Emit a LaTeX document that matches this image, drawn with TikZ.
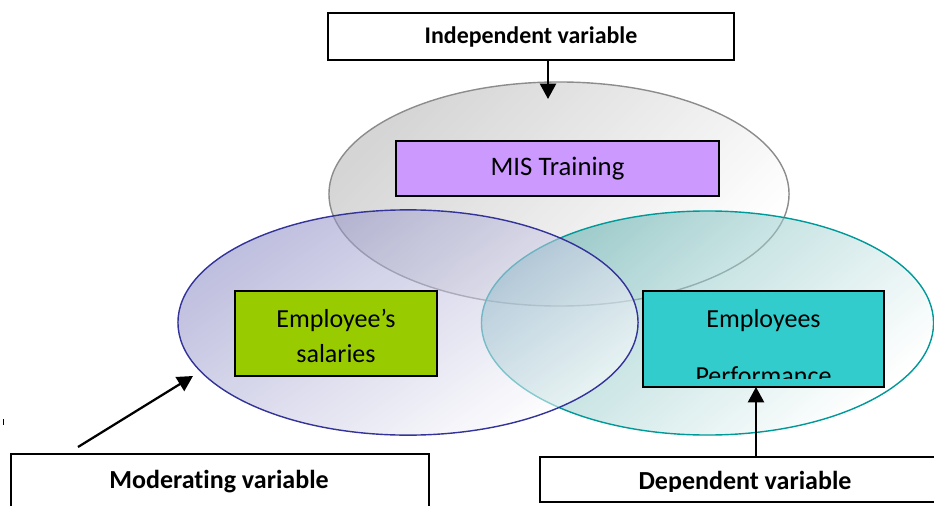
\documentclass[tikz,border=0pt]{standalone}
\usepackage{fontspec}
\setmainfont{Carlito}[Ligatures=NoCommon]
\usetikzlibrary{arrows.meta}
\usetikzlibrary{shapes}
\usetikzlibrary{backgrounds,positioning}
\usepackage{xcolor}
\definecolor{misfill}{HTML}{CC99FF}
\definecolor{salfill}{HTML}{99CC00}
\definecolor{perffill}{HTML}{33CCCC}
\definecolor{navyline}{HTML}{333399}
\definecolor{tealline}{HTML}{009999}
\definecolor{grayline}{HTML}{8C8C8C}

\begin{document}
\begin{tikzpicture}[x=0.025cm,y=-0.025cm]
      \tikzstyle{region}=[ellipse, inner sep=0pt, line width=1pt, fill opacity=0.55, shading=axis]
      \tikzstyle{factor}=[rectangle, draw, line width=1.3pt, inner sep=0pt, align=center, font=\fontsize{18.5}{24.9}\selectfont]
      \tikzstyle{varbox}=[rectangle, draw, line width=1pt, fill=white, inner sep=0pt, font=\fontsize{17}{20}\selectfont\bfseries]
      \tikzstyle{varname}=[anchor=base, font=\fontsize{18.5}{20}\selectfont\bfseries]
      \tikzstyle{arrow}=[line width=1.6pt, -{Triangle[length=11pt,width=11.5pt]}]
      \clip (0,0) rectangle (934,506);

      % the three overlapping sets
      \node[region, draw=grayline, top color=gray!60, middle color=gray!22, bottom color=white, shading angle=45,
            minimum width=11.5cm, minimum height=5.6cm] (trainset) at (559,194) {};
      \node[region, draw=tealline, top color=teal!65, middle color=teal!20, bottom color=white, shading angle=40,
            minimum width=11.3cm, minimum height=5.6cm] (perfset) at (707.5,323) {};
      \node[region, draw=navyline, top color=navyline!58, middle color=navyline!10, bottom color=white, shading angle=35,
            minimum width=11.5cm, minimum height=5.63cm] (salset) at (408,322.5) {};

      % factors
      \node[factor, fill=misfill, minimum width=8.07cm, minimum height=1.37cm,
            font=\fontsize{19}{24.9}\selectfont] (mis) at (557.5,168.5) {MIS Training};
      \node[factor, fill=salfill, minimum width=5.05cm, minimum height=2.12cm] (sal) at (336,333.5) {\rule{0pt}{16.5pt}Employee’s\\salaries};
      \node[factor, fill=perffill, minimum width=6.02cm, minimum height=2.4cm] (perf) at (763.5,339) {};
      \node[anchor=base, font=\fontsize{18.5}{24.9}\selectfont] (perftop) at (763.5,327) {Employees};
      \coordinate (perfcut) at (884,378);
      \begin{scope}
        \clip (perf.north west) rectangle (perfcut);
        \node[anchor=base, font=\fontsize{18.5}{24.9}\selectfont] (perfbot) at (763.5,384) {Performance};
      \end{scope}

      % variable boxes
      \node[varbox, minimum width=10.15cm, minimum height=1.17cm, text depth=0.2em] (indep) at (531,36.5) {Independent variable};
      \node[varbox, minimum width=10.45cm, minimum height=1.5cm] (moder) at (220,484) {};
      \node[varname] (modertext) at (219,488.3) {Moderating variable};
      \node[varbox, minimum width=10.25cm, minimum height=1.12cm] (dep) at (745,479.5) {};
      \coordinate (depcut) at (934,491.5);
      \begin{scope}
        \clip (dep.north west) rectangle (depcut);
        \node[varname] (deptext) at (745,489.5) {Dependent variable};
      \end{scope}

      % arrows
      \coordinate (trainin) at (548,99);
      \coordinate (modout)  at (78,447);
      \coordinate (salin)   at (193,376);
      \coordinate (perfin)  at (756,387);
      \draw[arrow] (indep.south -| trainin) -- (trainin);
      \draw[arrow] (modout) -- (salin);
      \draw[arrow] (dep.north -| perfin) -- (perfin);

      \draw[line width=0.6pt] (3,419) -- (3,425);
\end{tikzpicture}
\end{document}
